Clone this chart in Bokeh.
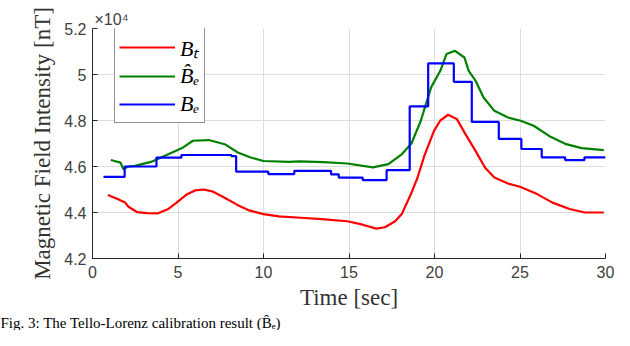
from bokeh.plotting import figure
from bokeh.models import Range1d, FixedTicker, Legend, LegendItem, Title
from bokeh.embed import file_html
from bokeh.resources import INLINE

# ---- data (values in units of 1e4 nT) ----
t_bt = [0.9, 1.5, 1.9, 2.1, 2.6, 3.2, 3.8, 4.4, 4.9, 5.5, 6.0, 6.5, 7.0, 7.7, 8.5, 9.2,
        10.0, 10.9, 12.4, 13.4, 14.9, 15.8, 16.6, 17.1, 17.7, 18.1, 18.65, 19.0, 19.4,
        19.97, 20.34, 20.8, 21.3, 21.8, 22.4, 22.95, 23.5, 24.3, 25.0, 26.0, 26.9, 27.9,
        28.8, 29.9]
bt = [4.476, 4.458, 4.444, 4.425, 4.402, 4.397, 4.396, 4.414, 4.442, 4.478, 4.496, 4.500,
      4.492, 4.465, 4.432, 4.408, 4.393, 4.383, 4.376, 4.371, 4.362, 4.347, 4.330, 4.336,
      4.362, 4.395, 4.485, 4.550, 4.645, 4.755, 4.800, 4.825, 4.807, 4.742, 4.668, 4.596,
      4.552, 4.526, 4.512, 4.480, 4.443, 4.415, 4.400, 4.400]

t_be_hat = [1.07, 1.64, 1.8, 2.1, 2.48, 3.42, 4.37, 5.3, 5.87, 6.8, 7.73, 8.5, 9.25, 10.0,
            11.5, 12.1, 13.5, 14.9, 16.4, 17.3, 18.1, 18.65, 19.2, 19.8, 20.34, 20.7, 21.2,
            21.75, 22.0, 22.4, 22.87, 23.5, 24.3, 25.04, 25.8, 26.7, 27.7, 28.6, 29.9]
be_hat = [4.628, 4.617, 4.589, 4.600, 4.603, 4.620, 4.651, 4.683, 4.712, 4.715, 4.697,
          4.661, 4.639, 4.624, 4.620, 4.622, 4.619, 4.613, 4.596, 4.610, 4.654, 4.700,
          4.799, 4.944, 5.016, 5.089, 5.103, 5.074, 5.016, 4.973, 4.900, 4.842, 4.813,
          4.799, 4.777, 4.733, 4.697, 4.680, 4.671]

t_be = [0.64, 1.88, 3.74, 5.2, 8.12, 8.4, 10.28, 11.8, 13.95, 14.4, 15.8, 17.2, 18.55,
        19.63, 21.13, 22.18, 23.76, 25.08, 26.27, 27.64, 28.77, 30.0]
be = [4.555, 4.600, 4.639, 4.650, 4.645, 4.578, 4.567, 4.581, 4.566, 4.552, 4.541, 4.584,
      4.861, 5.048, 4.968, 4.794, 4.720, 4.676, 4.640, 4.628, 4.640, 4.640]

x_ticks = [0, 5, 10, 15, 20, 25, 30]
y_ticks = [4.2, 4.4, 4.6, 4.8, 5.0, 5.2]
y_tick_labels = ["4.2", "4.4", "4.6", "4.8", "5", "5.2"]

labels = ["B\u209c", "B\u0302\u2091", "B\u2091"]
colors = ["#ff0000", "#008000", "#0000ff"]
exponent_label = "\u00d710\u2074"
caption = "Fig. 3: The Tello-Lorenz calibration result (B\u0302\u2091)"

p = figure(width=614, height=330, output_backend="svg", toolbar_location=None,
           x_range=Range1d(0, 30), y_range=Range1d(4.2, 5.2),
           min_border_left=92, min_border_right=9, min_border_top=28, min_border_bottom=72)
p.outline_line_color = None
p.background_fill_color = "white"

r1 = p.line(t_bt, bt, line_color=colors[0], line_width=2.2)
r2 = p.line(t_be_hat, be_hat, line_color=colors[1], line_width=2.2)
r3 = p.step(t_be, be, mode="after", line_color=colors[2], line_width=2.2)

grid_col = "#dedede"
for ax in (p.xaxis[0], p.yaxis[0]):
    ax.axis_line_color = "#262626"
    ax.major_tick_line_color = "#262626"
    ax.major_tick_in = 5
    ax.major_tick_out = 0
    ax.minor_tick_line_color = None
    ax.major_label_text_font = "Liberation Sans"
    ax.major_label_text_font_size = "16px"
    ax.major_label_text_color = "#404040"
    ax.axis_label_text_font = "Liberation Serif"
    ax.axis_label_text_font_size = "23px"
    ax.axis_label_text_font_style = "normal"
    ax.axis_label_text_color = "#333333"

p.xaxis.ticker = FixedTicker(ticks=x_ticks)
p.yaxis.ticker = FixedTicker(ticks=y_ticks)
p.yaxis.major_label_overrides = {v: s for v, s in zip(y_ticks, y_tick_labels)}
p.xaxis.axis_label = "Time [sec]"
p.yaxis.axis_label = "Magnetic Field Intensity [nT]"
p.xaxis.major_label_standoff = 7
p.yaxis.major_label_standoff = 6
p.xaxis.axis_label_standoff = 4
p.yaxis.axis_label_standoff = 6

p.xgrid.grid_line_color = grid_col
p.ygrid.grid_line_color = grid_col
p.xgrid.grid_line_width = 1
p.ygrid.grid_line_width = 1

legend = Legend(items=[LegendItem(label=labels[0], renderers=[r1]),
                       LegendItem(label=labels[1], renderers=[r2]),
                       LegendItem(label=labels[2], renderers=[r3])],
                location=(22, 135))
legend.label_text_font = "Liberation Serif"
legend.label_text_font_style = "italic"
legend.label_text_font_size = "22px"
legend.label_text_color = "#000000"
legend.glyph_width = 56
legend.glyph_height = 28
legend.label_height = 28
legend.label_standoff = 5
legend.spacing = 0
legend.padding = 4
legend.margin = 0
legend.border_line_color = "#262626"
legend.border_line_width = 1
legend.background_fill_color = "white"
legend.background_fill_alpha = 1
p.add_layout(legend)

p.add_layout(Title(text=exponent_label, align="left", text_font="Liberation Sans",
                   text_font_size="16px", text_font_style="normal", text_color="#404040",
                   standoff=1, offset=2), "above")

p.add_layout(Title(text=caption, align="left", text_font="Liberation Serif",
                   text_font_size="15px", text_font_style="normal", text_color="#000000",
                   standoff=0, offset=-92), "below")

open("out.html", "w").write(file_html(p, INLINE))
